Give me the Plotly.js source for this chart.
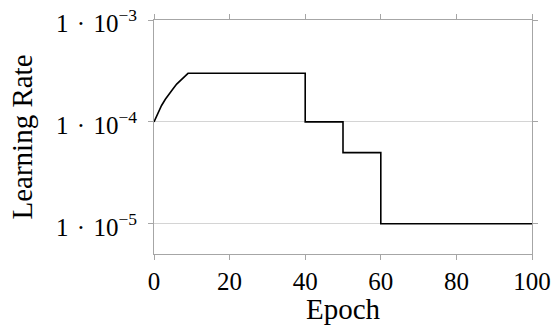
<!DOCTYPE html>
<html>
<head>
<meta charset="utf-8">
<script src="https://cdn.plot.ly/plotly-3.0.1.min.js"></script>
<style>html,body{margin:0;padding:0;background:#fff;}#chart{width:554px;height:325px;}</style>
</head>
<body>
<div id="chart"></div>
<script>
// Data: warmup ramp, then step decays (drops repeat the epoch)
const epochs = [0, 1, 2, 3, 4, 5, 6, 7, 8, 9, 40, 40, 50, 50, 60, 60, 100];
const learningRate = [1.0e-4, 1.22e-4, 1.45e-4, 1.67e-4, 1.9e-4, 2.1e-4, 2.35e-4, 2.55e-4, 2.8e-4, 3.0e-4,
                      3.0e-4, 1.0e-4, 1.0e-4, 5.0e-5, 5.0e-5, 1.0e-5, 1.0e-5];
const xTickVals = [0, 20, 40, 60, 80, 100];
const yTickVals = [1e-5, 1e-4, 1e-3];
const yTickText = ["1\u2004·\u200410<sup>−5</sup>", "1\u2004·\u200410<sup>−4</sup>", "1\u2004·\u200410<sup>−3</sup>"];

const FONT = "Liberation Serif, Times New Roman, serif";
const axisGray = "#a6a6a6";
const gridGray = "#d4d4d4";

const trace = {
  x: epochs,
  y: learningRate,
  type: "scatter",
  mode: "lines",
  line: {color: "#000", width: 1.6},
  hoverinfo: "skip"
};

const layout = {
  width: 554, height: 325,
  margin: {l: 154, r: 22, t: 20, b: 71},
  paper_bgcolor: "#fff", plot_bgcolor: "#fff",
  showlegend: false,
  font: {family: FONT, size: 25, color: "#000"},
  xaxis: {
    range: [0, 100],
    tickvals: xTickVals,
    ticks: "outside", ticklen: 5, tickwidth: 1, tickcolor: axisGray,
    showline: true, linecolor: axisGray, linewidth: 1, mirror: "ticks",
    showgrid: false, zeroline: false,
    tickfont: {family: FONT, size: 25},
    ticklabeloverflow: "allow",
    title: {text: "Epoch", font: {family: FONT, size: 29}, standoff: 2}
  },
  yaxis: {
    type: "log",
    range: [Math.log10(5.05e-6), -2.9995],
    tickvals: yTickVals, ticktext: yTickText,
    ticks: "outside", ticklen: 5, tickwidth: 1, tickcolor: axisGray,
    showline: true, linecolor: axisGray, linewidth: 1, mirror: "ticks",
    showgrid: true, gridcolor: gridGray, gridwidth: 1, zeroline: false,
    tickfont: {family: FONT, size: 25},
    ticklabelstandoff: 6,
    ticklabelshift: 3,
    ticklabeloverflow: "allow",
    title: {text: "Learning Rate", font: {family: FONT, size: 29}, standoff: 14}
  }
};

Plotly.newPlot("chart", [trace], layout, {staticPlot: true, displayModeBar: false});
</script>
</body>
</html>
